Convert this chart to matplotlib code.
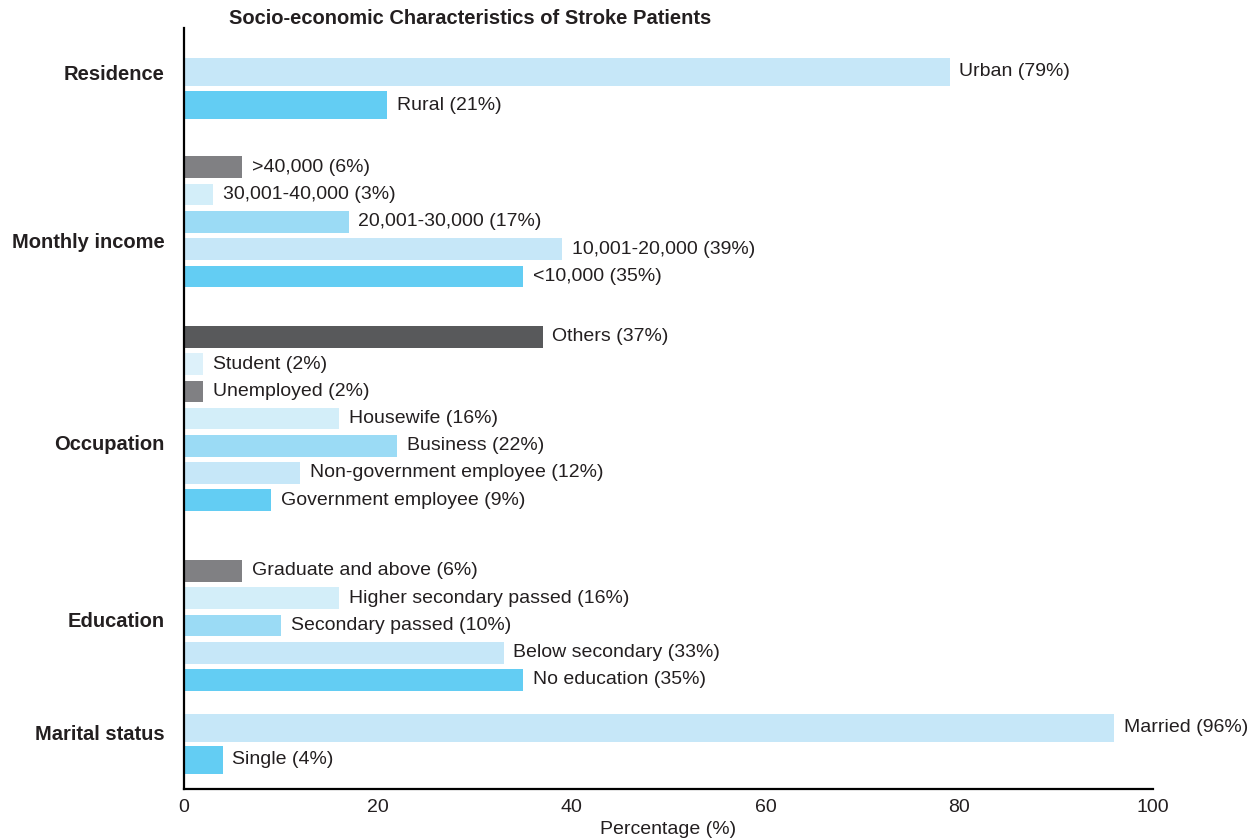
import matplotlib.pyplot as plt

plt.rcParams['font.family'] = ['Liberation Sans', 'DejaVu Sans']

# data (each group listed bottom to top)
groups = ['Residence', 'Monthly income', 'Occupation', 'Education', 'Marital status']

residence_cats = ['Rural', 'Urban']
residence_vals = [21, 79]

income_cats = ['<10,000', '10,001-20,000', '20,001-30,000', '30,001-40,000', '>40,000']
income_vals = [35, 39, 17, 3, 6]

occupation_cats = ['Government employee', 'Non-government employee', 'Business',
                   'Housewife', 'Unemployed', 'Student', 'Others']
occupation_vals = [9, 12, 22, 16, 2, 2, 37]

education_cats = ['No education', 'Below secondary', 'Secondary passed',
                  'Higher secondary passed', 'Graduate and above']
education_vals = [35, 33, 10, 16, 6]

marital_cats = ['Single', 'Married']
marital_vals = [4, 96]

group_cats = [residence_cats, income_cats, occupation_cats, education_cats, marital_cats]
group_vals = [residence_vals, income_vals, occupation_vals, education_vals, marital_vals]

# layout (units ~ pixels from the top, axis inverted)
palette = ['#63CDF3', '#C6E7F8', '#9BDBF5', '#D3EEF9', '#808083', '#DDF1FA', '#58595B']
group_bottom = [105, 276.5, 500.2, 680, 760]
group_step = [33, 27.3, 27.2, 27.25, 32]
group_height = [27.7, 21.7, 21.7, 21.7, 27.7]
label_y = [73, 241, 443, 620, 733]
text_col = '#231f20'

fig = plt.figure(figsize=(12.6, 8.39), dpi=100)
ax = fig.add_axes([184 / 1260, 1 - 789 / 839, (1153 - 184) / 1260, (789 - 28) / 839])

for g, cats in enumerate(group_cats):
    vals = group_vals[g]
    ys = [group_bottom[g] - i * group_step[g] for i in range(len(cats))]
    cols = palette[:len(cats)]
    ax.barh(ys, vals, height=group_height[g], color=cols, linewidth=0)
    for y, c, v in zip(ys, cats, vals):
        ax.annotate(f'{c} ({v}%)', (v, y), xytext=(7, 0), textcoords='offset points',
                    va='center', ha='left', fontsize=14, color=text_col)

ax.set_xlim(0, 100)
ax.set_ylim(789, 28)
ax.set_yticks(label_y)
ax.set_yticklabels(groups, fontsize=14.5, fontweight='bold', color=text_col)
ax.tick_params(axis='y', length=0, pad=14)
ax.set_xticks([0, 20, 40, 60, 80, 100])
ax.tick_params(axis='x', length=0, labelsize=14, labelcolor=text_col, pad=7)
ax.set_xlabel('Percentage (%)', fontsize=14, color=text_col, labelpad=4)

for s in ['top', 'right']:
    ax.spines[s].set_visible(False)
for s in ['left', 'bottom']:
    ax.spines[s].set_linewidth(1.6)
    ax.spines[s].set_color('black')

fig.text(229 / 1260, 1 - 18 / 839, 'Socio-economic Characteristics of Stroke Patients',
         ha='left', va='center', fontsize=14.5, fontweight='bold', color=text_col)

fig.savefig('out.png', dpi=100)
